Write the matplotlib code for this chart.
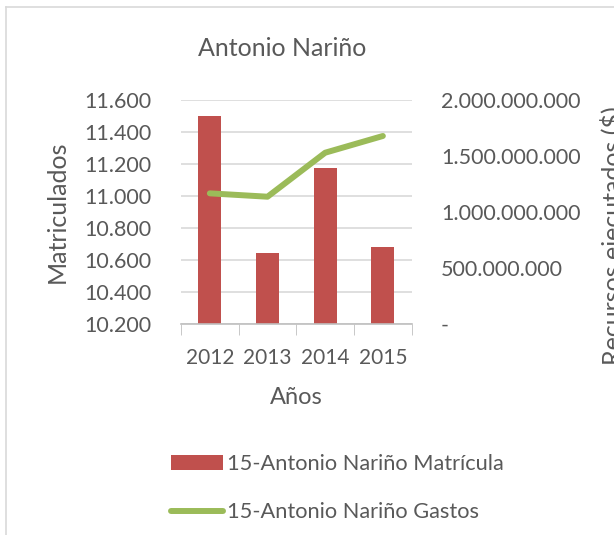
import matplotlib
matplotlib.use("Agg")
import matplotlib.pyplot as plt
from matplotlib.lines import Line2D
from matplotlib.ticker import FuncFormatter

years = ["2012", "2013", "2014", "2015"]
matricula = [11500, 10640, 11170, 10683]
gastos = [1.164e9, 1.134e9, 1.526e9, 1.675e9]

plt.rcParams['font.family'] = ['Lato', 'DejaVu Sans']
txt = '#595959'
W, H = 614, 535

fig = plt.figure(figsize=(W / 100, H / 100), dpi=100)
ax = fig.add_axes([181 / W, 1 - 324 / H, (411.7 - 181) / W, (324 - 99.5) / H])

x = list(range(len(years)))
ax.bar(x, matricula, width=0.4, color='#C0504D', zorder=2, label='15-Antonio Nariño Matrícula')
ax.set_ylim(10200, 11600)
ax.set_yticks(range(10200, 11601, 200))
ax.yaxis.set_major_formatter(FuncFormatter(lambda v, p: f"{int(v):,}".replace(",", ".")))
ax.set_xlim(-0.5, 3.5)
ax.set_xticks(x)
ax.set_xticklabels(years)
ax.set_xticks([-0.5, 0.5, 1.5, 2.5, 3.5], minor=True)
ax.tick_params(axis='x', which='major', length=0, pad=17, labelsize=15, labelcolor=txt)
ax.tick_params(axis='x', which='minor', length=8, color='#BFBFBF')
ax.tick_params(axis='y', length=0, pad=21, labelsize=15.5, labelcolor=txt)
ax.grid(axis='y', color='#D9D9D9', lw=1.2, zorder=0)
for s in ['top', 'left', 'right']:
    ax.spines[s].set_visible(False)
ax.spines['bottom'].set_color('#BFBFBF')
ax.spines['bottom'].set_linewidth(1.2)
ax.set_xlabel('Años', fontsize=17, color=txt, labelpad=14)

ax2 = ax.twinx()
ax2.plot(x, gastos, color='#9BBB59', lw=4.3, solid_capstyle='round', zorder=3,
         label='15-Antonio Nariño Gastos')
ax2.set_ylim(0, 2e9)
ax2.set_yticks([0, 5e8, 1e9, 1.5e9, 2e9])
ax2.yaxis.set_major_formatter(FuncFormatter(
    lambda v, p: "-" if v == 0 else f"{int(v):,}".replace(",", ".")))
ax2.tick_params(axis='y', length=0, pad=21, labelsize=15.5, labelcolor=txt)
for s in ['top', 'left', 'right', 'bottom']:
    ax2.spines[s].set_visible(False)

fig.text(57 / W, 1 - 212 / H, 'Matriculados', rotation=90, fontsize=18,
         color=txt, ha='center', va='center')
fig.text(600 / W, 1 - 236 / H, 'Recursos ejecutados ($)', rotation=90, fontsize=18,
         color=txt, ha='left', va='center')
fig.text(282 / W, 1 - 48 / H, 'Antonio Nariño', fontsize=18, color=txt, ha='center', va='center')

h1, l1 = ax.get_legend_handles_labels()
h2, l2 = ax2.get_legend_handles_labels()
fig.legend(h1 + h2, l1 + l2, loc='center left', bbox_to_anchor=(160 / W, 1 - 488 / H),
           frameon=False, fontsize=15.7, labelcolor=txt, handlelength=2.4,
           handletextpad=0.15, labelspacing=1.3, borderpad=0)

fig.add_artist(Line2D([6 / W, 6 / W], [-0.1, 1 - 7 / H], color='#D9D9D9', lw=1.2))
fig.add_artist(Line2D([6 / W, 1.1], [1 - 7 / H, 1 - 7 / H], color='#D9D9D9', lw=1.2))

fig.savefig('out.png', dpi=100)
